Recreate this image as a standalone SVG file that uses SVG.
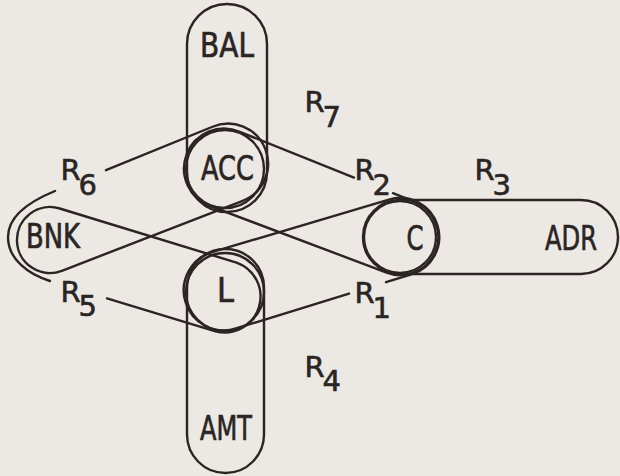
<svg xmlns="http://www.w3.org/2000/svg" width="620" height="476" viewBox="0 0 620 476">
  <style>
    .ln { fill: none; stroke: #2a2522; stroke-width: 2.4; stroke-linecap: round; stroke-linejoin: round; }
    .nt { font-family: "DejaVu Sans", "Liberation Sans", sans-serif; font-size: 33px; fill: #2a2522; stroke: #2a2522; stroke-width: 0.7; }
    .rl { font-family: "DejaVu Sans", "Liberation Sans", sans-serif; font-size: 29px; fill: #2a2522; stroke: #2a2522; stroke-width: 0.6; }
  </style>
  <rect x="0" y="0" width="620" height="476" fill="#ece9e5"/>

  <g id="connectors">
    <!-- R7: BAL-ACC -->
    <rect class="ln" x="187" y="4" width="80" height="208" rx="40"/>
    <!-- R4: L-AMT -->
    <rect class="ln" x="187" y="249" width="77" height="224" rx="38.5"/>
    <!-- R3: C-ADR -->
    <rect class="ln" x="363" y="200" width="255" height="74" rx="37"/>
    <!-- R6 / R5 loop through ACC, BNK, L -->
    <path class="ln" d="M106,170.2 L211.9,127 A40,40 0 1 1 241.4,201.3 L61.9,270.8 A33,33 0 1 1 59.7,208.5 L236.5,262.6 A36,36 0 0 1 215.5,331.4 L107,298.4"/>
    <path class="ln" d="M55,191 C30,201.2 8,216 8,237 C8,259 28,274.3 50,281"/>
    <!-- R2 loop: ACC-C -->
    <path class="ln" d="M354,177.6 L239.9,131.9 A40,40 0 1 0 210.9,206.4 L386.6,272.6 A38,38 0 0 0 414.1,201.7 L393,193.2"/>
    <!-- R1 loop: L-C -->
    <path class="ln" d="M349,293.6 L236.8,328.2 A40,40 0 1 1 213.6,251.7 L388.9,199.6 A39,39 0 0 1 411.5,274.3 L386,282.2"/>
    <!-- relationship labels -->
    <text class="rl" x="304.5" y="112">R<tspan x="322.5" y="127">7</tspan></text>
    <text class="rl" x="60.5" y="180">R<tspan x="78.5" y="195">6</tspan></text>
    <text class="rl" x="354.5" y="180">R<tspan x="372.5" y="195">2</tspan></text>
    <text class="rl" x="474.5" y="180">R<tspan x="492.5" y="195">3</tspan></text>
    <text class="rl" x="60.5" y="302">R<tspan x="78.5" y="316">5</tspan></text>
    <text class="rl" x="354.5" y="303">R<tspan x="372.5" y="318">1</tspan></text>
    <text class="rl" x="304.5" y="377">R<tspan x="322.5" y="391">4</tspan></text>
  </g>

  <g id="node-BAL">
    <text class="nt" x="200" y="57" textLength="54" lengthAdjust="spacingAndGlyphs">BAL</text>
  </g>
  <g id="node-ACC">
    <circle class="ln" cx="225" cy="169" r="39"/>
    <text class="nt" x="201" y="180" textLength="53" lengthAdjust="spacingAndGlyphs">ACC</text>
  </g>
  <g id="node-BNK">
    <text class="nt" x="26" y="248" textLength="54" lengthAdjust="spacingAndGlyphs">BNK</text>
  </g>
  <g id="node-C">
    <circle class="ln" cx="400" cy="237" r="36"/>
    <text class="nt" x="406.5" y="250" textLength="17" lengthAdjust="spacingAndGlyphs">C</text>
  </g>
  <g id="node-ADR">
    <text class="nt" x="545" y="250" textLength="52" lengthAdjust="spacingAndGlyphs">ADR</text>
  </g>
  <g id="node-L">
    <circle class="ln" cx="225" cy="292" r="39"/>
    <text class="nt" x="217" y="302" textLength="17" lengthAdjust="spacingAndGlyphs">L</text>
  </g>
  <g id="node-AMT">
    <text class="nt" x="200" y="440" textLength="52" lengthAdjust="spacingAndGlyphs">AMT</text>
  </g>
</svg>
